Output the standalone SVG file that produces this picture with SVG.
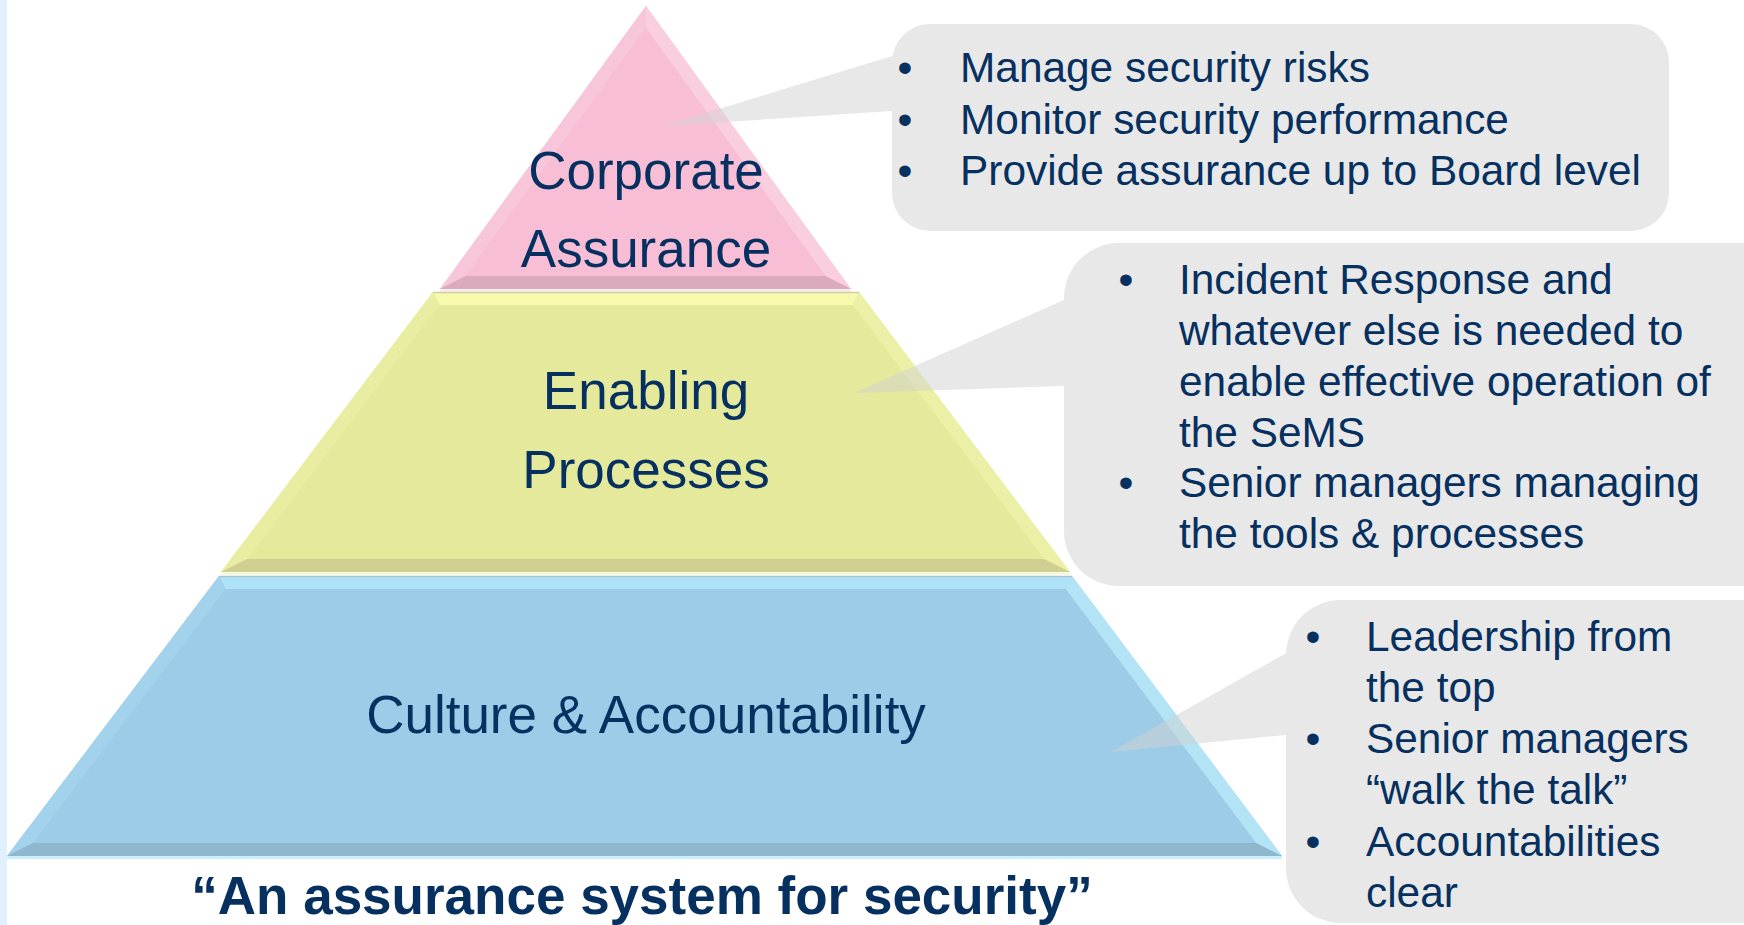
<svg xmlns="http://www.w3.org/2000/svg" width="1744" height="925" viewBox="0 0 1744 925">
  <style>
    .lbl { font-family: "Liberation Sans", Arial, sans-serif; font-size: 53px; fill: #06305f; text-anchor: middle; }
    .cap { font-family: "Liberation Sans", Arial, sans-serif; font-size: 53px; font-weight: bold; fill: #06305f; text-anchor: middle; }
    .txt { font-family: "Liberation Sans", Arial, sans-serif; font-size: 42.4px; fill: #06305f; }
    .bul { font-family: "Liberation Sans", Arial, sans-serif; font-size: 42.4px; fill: #06305f; text-anchor: middle; }
    .call { fill: #d2d2d2; fill-opacity: 0.5; }
  </style>
  <rect x="0" y="0" width="1744" height="925" fill="#ffffff"/>
  <rect x="0" y="0" width="7" height="925" fill="#e1f0fe"/>

  <!-- Pyramid layers -->
  <g id="layer-corporate">
    <polygon points="646,6 851,289 440,289" fill="#f7bed5"/>
    <polygon points="646,6 646,28 465.5,276 440,289" fill="#f8c6da"/>
    <polygon points="646,6 851,289 825.5,276 646,28" fill="#f9cfe0"/>
    <polygon points="440,289 851,289 825.5,276 465.5,276" fill="#dcaabd"/>
    <polygon points="646,28 825.5,276 465.5,276" fill="#f7bed5"/>
    <line x1="440" y1="290.5" x2="851" y2="290.5" stroke="#fbe6ee" stroke-width="2"/>
    <text class="lbl" x="646" y="189">Corporate</text>
    <text class="lbl" x="646" y="267">Assurance</text>
  </g>

  <g id="layer-enabling">
    <polygon points="433,292 859,292 1070,572 221,572" fill="#e5e99c"/>
    <polygon points="433,292 859,292 852.5,305 439.5,305" fill="#f7f9ac"/>
    <polygon points="433,292 439.5,305 247.2,559 221,572" fill="#e9eda1"/>
    <polygon points="859,292 1070,572 1044,559 852.5,305" fill="#ecf0a6"/>
    <polygon points="221,572 1070,572 1044,559 247.2,559" fill="#cfcf92"/>
    <polygon points="439.5,305 852.5,305 1044,559 247.2,559" fill="#e5e99c"/>
    <line x1="433" y1="292.5" x2="859" y2="292.5" stroke="#c9cfa6" stroke-width="1.5"/>
    <line x1="221" y1="573.5" x2="1070" y2="573.5" stroke="#f3f7c8" stroke-width="2"/>
    <text class="lbl" x="646" y="409">Enabling</text>
    <text class="lbl" x="646" y="488">Processes</text>
  </g>

  <g id="layer-culture">
    <polygon points="219,576 1072,576 1282,856 7,856" fill="#9ccce7"/>
    <polygon points="219,576 1072,576 1065.5,589 225.5,589" fill="#aee3f7"/>
    <polygon points="219,576 225.5,589 33.2,843 7,856" fill="#a3d3ec"/>
    <polygon points="1072,576 1282,856 1256,843 1065.5,589" fill="#b2e4f5"/>
    <polygon points="7,856 1282,856 1256,843 33.2,843" fill="#8fb7ce"/>
    <polygon points="225.5,589 1065.5,589 1256,843 33.2,843" fill="#9ccce7"/>
    <line x1="219" y1="576.5" x2="1072" y2="576.5" stroke="#a9c4d4" stroke-width="1.5"/>
    <line x1="7" y1="857.5" x2="1282" y2="857.5" stroke="#c9f0fd" stroke-width="3"/>
    <text class="lbl" x="646" y="733">Culture &amp; Accountability</text>
  </g>

  <!-- Callouts (connectors as wedges) -->
  <g id="connectors">
    <path class="call" d="M 930,24 H 1631 A 38 38 0 0 1 1669,62 V 193 A 38 38 0 0 1 1631,231 H 930 A 38 38 0 0 1 892,193 V 62 A 38 38 0 0 1 930,24 Z M 663,126 L 930,44.4 L 930,108.5 Z"/>
    <path class="call" d="M 1119,243 H 1750 V 586 H 1119 A 55 55 0 0 1 1064,531 V 298 A 55 55 0 0 1 1119,243 Z M 854,393 L 1100,284 L 1100,384.8 Z"/>
    <path class="call" d="M 1341,600 H 1750 V 923 H 1341 A 55 55 0 0 1 1286,868 V 655 A 55 55 0 0 1 1341,600 Z M 1111,752 L 1320,634 L 1320,731.7 Z"/>
  </g>

  <g id="callout-corporate">
    <text class="bul" x="905" y="82">•</text>
    <text class="txt" x="960" y="82">Manage security risks</text>
    <text class="bul" x="905" y="134">•</text>
    <text class="txt" x="960" y="134">Monitor security performance</text>
    <text class="bul" x="905" y="185">•</text>
    <text class="txt" x="960" y="185">Provide assurance up to Board level</text>
  </g>

  <g id="callout-enabling">
    <text class="bul" x="1126" y="294">•</text>
    <text class="txt" x="1179" y="294">Incident Response and</text>
    <text class="txt" x="1179" y="345">whatever else is needed to</text>
    <text class="txt" x="1179" y="396">enable effective operation of</text>
    <text class="txt" x="1179" y="447">the SeMS</text>
    <text class="bul" x="1126" y="497">•</text>
    <text class="txt" x="1179" y="497">Senior managers managing</text>
    <text class="txt" x="1179" y="548">the tools &amp; processes</text>
  </g>

  <g id="callout-culture">
    <text class="bul" x="1313" y="651">•</text>
    <text class="txt" x="1366" y="651">Leadership from</text>
    <text class="txt" x="1366" y="702">the top</text>
    <text class="bul" x="1313" y="753">•</text>
    <text class="txt" x="1366" y="753">Senior managers</text>
    <text class="txt" x="1366" y="804">“walk the talk”</text>
    <text class="bul" x="1313" y="856">•</text>
    <text class="txt" x="1366" y="856">Accountabilities</text>
    <text class="txt" x="1366" y="907">clear</text>
  </g>

  <g id="caption">
    <text class="cap" x="642" y="914">“An assurance system for security”</text>
  </g>
</svg>
